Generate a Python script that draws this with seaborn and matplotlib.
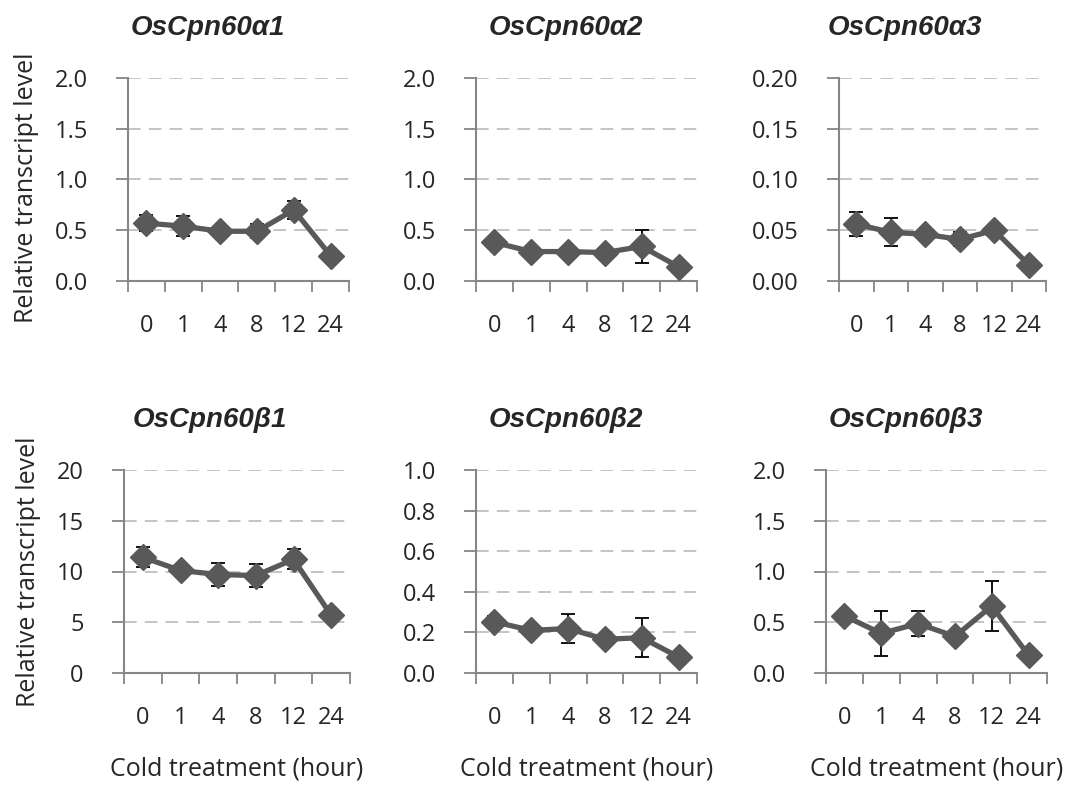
import matplotlib
matplotlib.use("Agg")
import matplotlib.pyplot as plt
import seaborn as sns
import numpy as np
import pandas as pd

hours = ["0", "1", "4", "8", "12", "24"]
genes = ["OsCpn60α1", "OsCpn60α2", "OsCpn60α3", "OsCpn60β1", "OsCpn60β2", "OsCpn60β3"]

a1_mean = [0.57, 0.54, 0.49, 0.49, 0.70, 0.25]
a1_err = [0.08, 0.10, 0.03, 0.07, 0.09, 0.02]
a2_mean = [0.38, 0.29, 0.29, 0.28, 0.34, 0.14]
a2_err = [0.03, 0.03, 0.03, 0.02, 0.16, 0.02]
a3_mean = [0.056, 0.048, 0.046, 0.041, 0.050, 0.016]
a3_err = [0.012, 0.014, 0.003, 0.007, 0.003, 0.003]
b1_mean = [11.4, 10.1, 9.7, 9.6, 11.2, 5.7]
b1_err = [1.0, 0.3, 1.1, 1.1, 1.0, 0.4]
b2_mean = [0.252, 0.21, 0.219, 0.166, 0.174, 0.079]
b2_err = [0.03, 0.015, 0.07, 0.01, 0.097, 0.015]
b3_mean = [0.563, 0.39, 0.487, 0.36, 0.66, 0.175]
b3_err = [0.03, 0.22, 0.12, 0.03, 0.25, 0.03]

means = [a1_mean, a2_mean, a3_mean, b1_mean, b2_mean, b3_mean]
errs = [a1_err, a2_err, a3_err, b1_err, b2_err, b3_err]

ytick_sets = [
    [0.0, 0.5, 1.0, 1.5, 2.0],
    [0.0, 0.5, 1.0, 1.5, 2.0],
    [0.0, 0.05, 0.10, 0.15, 0.20],
    [0, 5, 10, 15, 20],
    [0.0, 0.2, 0.4, 0.6, 0.8, 1.0],
    [0.0, 0.5, 1.0, 1.5, 2.0],
]
ytick_fmt = ["{:.1f}", "{:.1f}", "{:.2f}", "{:.0f}", "{:.1f}", "{:.1f}"]

sns.set_style("white")
plt.rcParams['font.family'] = ['Open Sans', 'DejaVu Sans']

W, H = 1075, 785
fig = plt.figure(figsize=(W / 100, H / 100), dpi=100)

# axes pixel boxes: (left, right, top, bottom)
boxes = [
    (128, 349, 78, 281),
    (476, 697, 78, 281),
    (839, 1046, 78, 281),
    (124, 350, 470, 673),
    (476, 697, 470, 673),
    (826, 1047, 470, 673),
]
title_cx = [208, 566, 905, 210, 566, 906]

line_col = "#595959"
grid_col = "#BFBFBF"
spine_col = "#868686"
fs_tick = 17
fs_lab = 18

for i in range(6):
    l, r, t, b = boxes[i]
    ax = fig.add_axes([l / W, 1 - b / H, (r - l) / W, (b - t) / H])
    df = pd.DataFrame({"hour": hours, "value": means[i]})
    ax.errorbar(np.arange(6), means[i], yerr=errs[i], fmt="none",
                ecolor="black", elinewidth=1.3, capsize=5, capthick=1.3, zorder=2)
    sns.lineplot(data=df, x="hour", y="value", ax=ax, sort=False,
                 color=line_col, linewidth=3.8, marker="D", markersize=13,
                 markeredgecolor=line_col, markeredgewidth=1, zorder=3)
    yt = ytick_sets[i]
    ax.set_ylim(yt[0], yt[-1])
    ax.set_yticks(yt)
    ax.set_yticklabels([ytick_fmt[i].format(v) for v in yt], fontsize=fs_tick)
    for v in yt[1:]:
        ax.axhline(v, color=grid_col, linestyle=(0, (7, 4.5)), linewidth=1.3, zorder=0)
    ax.set_xlim(-0.5, 5.5)
    ax.set_xticks(np.arange(-0.5, 6.0, 1.0))
    ax.set_xticklabels([])
    ax.set_xticks(np.arange(6), minor=True)
    ax.set_xticklabels(hours, minor=True, fontsize=fs_tick)
    ax.tick_params(axis="x", which="major", direction="out", length=8, width=1.3,
                   color=spine_col, bottom=True)
    ax.tick_params(axis="x", which="minor", length=0, pad=24)
    ax.tick_params(axis="y", direction="out", length=9, width=1.3,
                   color=spine_col, left=True, pad=20)
    for s in ["top", "right"]:
        ax.spines[s].set_visible(False)
    for s in ["left", "bottom"]:
        ax.spines[s].set_color(spine_col)
        ax.spines[s].set_linewidth(1.5)
    ax.set_xlabel("")
    ax.set_ylabel("")
    ax.set_title(genes[i], fontsize=20, fontweight="bold", style="italic",
                 family="Liberation Sans", pad=31,
                 x=(title_cx[i] - l) / (r - l))
    if i % 3 == 0:
        ax.set_ylabel("Relative transcript level", fontsize=fs_lab, labelpad=11)
        if i == 0:
            ax.yaxis.label.set_y(0.46)
    if i >= 3:
        ax.set_xlabel("Cold treatment (hour)", fontsize=fs_lab, labelpad=19)

fig.savefig("out.png", dpi=100)
